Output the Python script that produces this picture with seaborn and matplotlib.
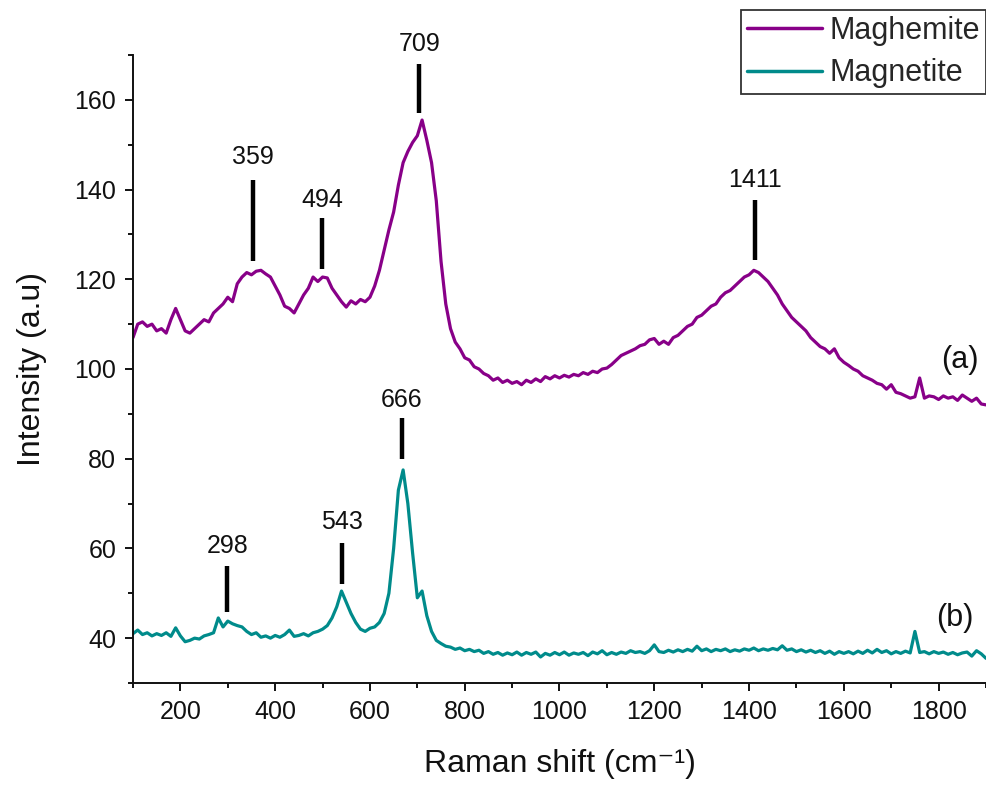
import numpy as np
import pandas as pd
import matplotlib
matplotlib.use("Agg")
import matplotlib.pyplot as plt
import seaborn as sns
from matplotlib.ticker import MultipleLocator

# ---------------- data ----------------
raman_shift = list(range(100, 1901, 10))

maghemite = [
    107, 110, 110.5, 109.5, 110, 108.5, 109, 108, 111, 113.5,          # 100-190
    111, 108.5, 108, 109, 110, 111, 110.5, 112.5, 113.5, 114.5,         # 200-290
    116, 115, 119, 120.5, 121.5, 121, 121.8, 122, 121.2, 120.5,         # 300-390
    118.5, 116.5, 114, 113.5, 112.5, 114.5, 116.5, 118, 120.5, 119.5,   # 400-490
    120.5, 120.3, 118, 116.5, 115, 113.8, 115.2, 114.5, 115.5, 115,     # 500-590
    116, 118.5, 122, 126.5, 131, 135, 141, 146, 148.5, 150.5,           # 600-690
    152, 155.5, 151, 146, 137.5, 124, 114.5, 109, 106, 104.5,           # 700-790
    102.5, 102, 100.5, 100, 99, 98.5, 97.5, 98, 97, 97.5,               # 800-890
    96.8, 97.2, 96.5, 97.5, 97, 97.8, 97.2, 98.3, 97.8, 98.5,           # 900-990
    98, 98.6, 98.2, 98.8, 98.5, 99.2, 98.8, 99.5, 99.2, 100,            # 1000-1090
    100.2, 101, 102, 103, 103.5, 104, 104.5, 105.2, 105.5, 106.5,       # 1100-1190
    106.8, 105.5, 106.2, 105.5, 107, 107.5, 108.5, 109.5, 110, 111.5,   # 1200-1290
    112, 113, 114, 114.5, 116, 117, 117.5, 118.5, 119.5, 120.5,         # 1300-1390
    121, 122, 121.5, 120.5, 119.5, 118, 116.5, 114.5, 113, 111.5,       # 1400-1490
    110.5, 109.5, 108.5, 107, 106, 105, 104.5, 103.5, 104.5, 102.5,     # 1500-1590
    101.5, 100.8, 100, 99.5, 98.5, 98, 97.5, 96.8, 96.5, 95.5,          # 1600-1690
    96.5, 94.8, 94.5, 94, 93.5, 93.8, 98, 93.5, 94, 93.8,               # 1700-1790
    93.2, 94, 93.5, 93.8, 93, 94.2, 93.5, 92.8, 93.5, 92.2,             # 1800-1890
    92,                                                                 # 1900
]

magnetite = [
    41, 41.8, 40.8, 41.2, 40.5, 41, 40.6, 41.2, 40.4, 42.3,             # 100-190
    40.5, 39.2, 39.5, 40, 39.8, 40.5, 40.8, 41.2, 44.5, 42.5,           # 200-290
    43.8, 43.2, 42.8, 42.5, 41.5, 40.8, 41.2, 40.2, 40.5, 40,           # 300-390
    40.6, 40.2, 40.8, 41.8, 40.4, 40.6, 41, 40.5, 41.2, 41.5,           # 400-490
    42, 42.8, 44.5, 47, 50.5, 48, 45.5, 43.5, 42, 41.5,                 # 500-590
    42.2, 42.5, 43.5, 45.5, 50, 60, 73, 77.5, 70, 59,                   # 600-690
    49, 50.5, 45, 41.5, 39.5, 38.8, 38.2, 38, 37.5, 37.8,               # 700-790
    37.2, 37.5, 37, 37.3, 36.6, 37, 36.4, 36.8, 36.2, 36.7,             # 800-890
    36.3, 36.9, 36.2, 36.8, 36.4, 36.9, 35.8, 36.6, 36.2, 36.8,         # 900-990
    36.3, 36.9, 36.2, 36.7, 36.4, 36.8, 36.1, 36.9, 36.5, 37.2,         # 1000-1090
    36.3, 36.8, 36.4, 36.9, 36.6, 37.2, 36.8, 37, 36.6, 37.2,           # 1100-1190
    38.5, 37, 36.8, 37.3, 36.9, 37.4, 37, 37.5, 37.1, 38.2,             # 1200-1290
    37.2, 37.6, 37, 37.5, 37.2, 37.6, 37, 37.4, 37.1, 37.6,             # 1300-1390
    37.3, 37.8, 37.2, 37.6, 37.3, 37.7, 37.4, 38.3, 37.3, 37.6,         # 1400-1490
    37, 37.4, 36.9, 37.3, 36.8, 37.2, 36.6, 37.1, 36.4, 37,             # 1500-1590
    36.6, 37, 36.5, 37.1, 36.6, 37.3, 36.7, 37.5, 36.8, 37.2,           # 1600-1690
    36.5, 37, 36.6, 37.1, 36.7, 41.5, 36.8, 37, 36.5, 37,               # 1700-1790
    36.6, 36.9, 36.4, 36.8, 36.3, 36.7, 36.9, 36, 37.2, 36.5,           # 1800-1890
    35.5,                                                               # 1900
]

# peak annotations: label, bar position, bar bottom, bar top, label centre height
peak_labels = ["359", "494", "709", "1411", "298", "543", "666"]
peak_x      = [354, 499, 704, 1412, 299, 541, 667]
bar_bottom  = [124.0, 122.2, 157.0, 124.3, 45.9, 52.1, 79.9]
bar_top     = [142.1, 133.6, 168.1, 137.7, 56.1, 61.3, 89.0]
label_y     = [147.3, 137.7, 172.4, 142.1, 60.6, 66.0, 93.1]

series_names = ["Maghemite", "Magnetite"]
series_colors = ["#880088", "#008B8B"]

# ---------------- figure ----------------
sns.set_theme(style="ticks")
plt.rcParams["font.family"] = ["Liberation Sans", "DejaVu Sans"]

W, H = 987, 787
fig = plt.figure(figsize=(W / 100, H / 100), dpi=100)
ax = fig.add_axes([133 / W, 1 - 683 / H, (986 - 133) / W, (683 - 55) / H])

df = pd.concat([
    pd.DataFrame({"shift": raman_shift, "intensity": maghemite, "sample": series_names[0]}),
    pd.DataFrame({"shift": raman_shift, "intensity": magnetite, "sample": series_names[1]}),
])

sns.lineplot(data=df, x="shift", y="intensity", hue="sample",
             palette=dict(zip(series_names, series_colors)),
             estimator=None, sort=False, linewidth=2.3, ax=ax, legend=True)

for lab, px, yb, yt, ly in zip(peak_labels, peak_x, bar_bottom, bar_top, label_y):
    ax.plot([px, px], [yb, yt], color="black", linewidth=3.2,
            solid_capstyle="butt", clip_on=False)
    ax.text(px, ly, lab, ha="center", va="center", fontsize=18,
            color="#111111", clip_on=False)

ax.text(1845, 102, "(a)", ha="center", va="center", fontsize=22, color="#111111")
ax.text(1835, 44.5, "(b)", ha="center", va="center", fontsize=22, color="#111111")

ax.set_xlim(100, 1900)
ax.set_ylim(30, 170)
ax.xaxis.set_major_locator(MultipleLocator(200))
ax.xaxis.set_minor_locator(MultipleLocator(100))
ax.yaxis.set_major_locator(MultipleLocator(20))
ax.yaxis.set_minor_locator(MultipleLocator(10))
ax.set_xticks(list(range(200, 1801, 200)))
ax.set_yticks(list(range(40, 161, 20)))

for s in ["top", "right"]:
    ax.spines[s].set_visible(False)
for s in ["left", "bottom"]:
    ax.spines[s].set_linewidth(1.4)
    ax.spines[s].set_color("#111111")

ax.tick_params(axis="both", which="major", direction="out", length=6,
               width=1.4, labelsize=18, colors="#111111", pad=6)
ax.tick_params(axis="both", which="minor", direction="out", length=3.5,
               width=1.4, colors="#111111")

ax.set_xlabel("Raman shift (cm\u207b\u00b9)", fontsize=23, color="#111111", labelpad=18)
ax.set_ylabel("Intensity (a.u)", fontsize=23, color="#111111", labelpad=20)

handles, labels = ax.get_legend_handles_labels()
leg = ax.legend(handles, labels, loc="upper left",
                bbox_to_anchor=(741 / W, 1 - 10 / H), bbox_transform=fig.transFigure,
                fontsize=22, frameon=True, fancybox=False, framealpha=1,
                edgecolor="#333333", borderpad=0.2, borderaxespad=0,
                handlelength=2.45, handletextpad=0.25, labelspacing=0.4)
leg.get_frame().set_linewidth(1.3)
for lh in leg.get_lines():
    lh.set_linewidth(2.5)

fig.savefig("out.png", dpi=100)
